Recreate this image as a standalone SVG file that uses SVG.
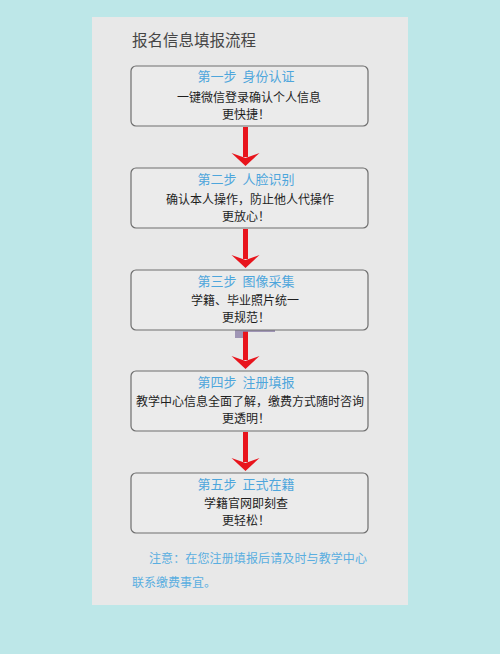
<svg xmlns="http://www.w3.org/2000/svg" width="500" height="654" viewBox="0 0 500 654">
<style>
text{font-family:"Noto Sans CJK SC","Liberation Sans",sans-serif;text-anchor:middle}
.box{fill:#ebebeb;stroke:#6e6e6e;stroke-width:1.2}
.h{fill:#4ea6dc;font-size:13px}
.t{fill:#1e1e1e;font-size:12px}
.note{fill:#5aaee0;font-size:12px;text-anchor:start}
.arr{fill:#e8141c}
</style>
<defs>
<g id="arrowHead"><polygon class="arr" points="-14,0 0,5 14,0 0,13"/></g>
</defs>
<rect x="0" y="0" width="500" height="654" fill="#bde7e8"/>
<rect x="92" y="17" width="316" height="588" fill="#e8e8e8"/>
<text x="132" y="46" style="text-anchor:start;font-size:15.5px;fill:#454545">报名信息填报流程</text>
<g id="connectors">
<rect class="arr" x="243" y="127" width="5" height="30"/><use href="#arrowHead" x="245.5" y="153"/>
<rect class="arr" x="243" y="229" width="5" height="30"/><use href="#arrowHead" x="245.5" y="255"/>
<rect class="arr" x="243" y="331" width="5" height="29"/><use href="#arrowHead" x="245.5" y="356"/>
<rect class="arr" x="243" y="432" width="5" height="30"/><use href="#arrowHead" x="245.5" y="458"/>
<path d="M235,329 H275 V332 H243 V338 H235 Z" fill="#8c7fa8" opacity="0.8"/>
</g>
<g id="step1">
<rect class="box" x="131" y="66" width="237" height="60" rx="5"/>
<text class="h" x="246" y="81">第一步&#160;&#160;身份认证</text>
<text class="t" x="249" y="102">一键微信登录确认个人信息</text>
<text class="t" x="246" y="119">更快捷！</text>
</g>
<g id="step2">
<rect class="box" x="131" y="168" width="237" height="60" rx="5"/>
<text class="h" x="246" y="184">第二步&#160;&#160;人脸识别</text>
<text class="t" x="250" y="204">确认本人操作，防止他人代操作</text>
<text class="t" x="246" y="221">更放心！</text>
</g>
<g id="step3">
<rect class="box" x="131" y="270" width="237" height="60" rx="5"/>
<text class="h" x="246" y="286">第三步&#160;&#160;图像采集</text>
<text class="t" x="245" y="305">学籍、毕业照片统一</text>
<text class="t" x="246" y="322">更规范！</text>
</g>
<g id="step4">
<rect class="box" x="131" y="371" width="237" height="60" rx="5"/>
<text class="h" x="246" y="387">第四步&#160;&#160;注册填报</text>
<text class="t" x="250" y="406">教学中心信息全面了解，缴费方式随时咨询</text>
<text class="t" x="246" y="423">更透明！</text>
</g>
<g id="step5">
<rect class="box" x="131" y="473" width="237" height="60" rx="5"/>
<text class="h" x="246" y="489">第五步&#160;&#160;正式在籍</text>
<text class="t" x="246" y="508">学籍官网即刻查</text>
<text class="t" x="246" y="525">更轻松！</text>
</g>
<text class="note" x="149" y="563" textLength="218" lengthAdjust="spacing">注意：在您注册填报后请及时与教学中心</text>
<text class="note" x="132" y="587" textLength="84" lengthAdjust="spacing">联系缴费事宜。</text>
</svg>
